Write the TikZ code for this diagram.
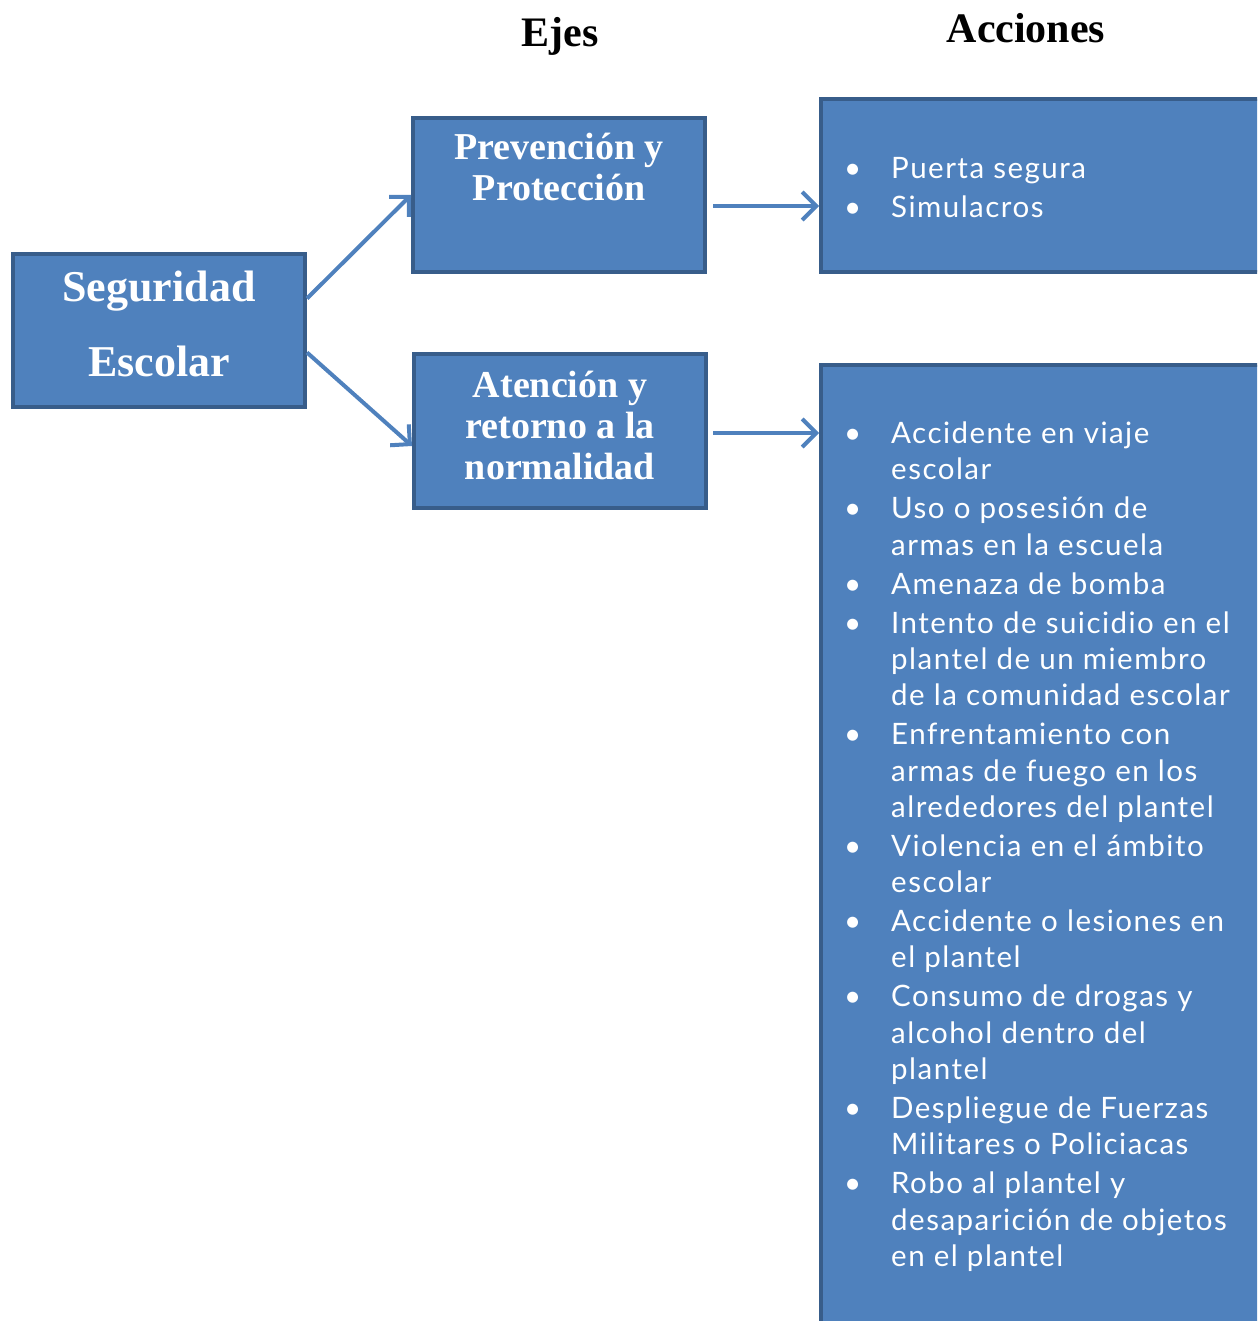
\documentclass[tikz,border=0pt]{standalone}
\usepackage{fontspec}
\setmainfont{Liberation Serif}
\newfontfamily\listafont[LetterSpace=5]{Lato}
\usepackage{enumitem}
\usepackage{tikz}
\usetikzlibrary{arrows.meta, positioning}
\usepackage{xcolor}
\definecolor{azul}{RGB}{79,129,189}
\definecolor{azulborde}{RGB}{56,93,138}

\tikzset{
  caja/.style={draw=azulborde, fill=azul, line width=4pt, anchor=north west, inner sep=0pt},
  textocaja/.style={text=white, align=center, inner sep=0pt, font=\fontsize{38}{41}\selectfont\bfseries},
  titulo/.style={inner sep=0pt, font=\fontsize{42}{44}\selectfont\bfseries},
  flecha/.style={draw=azul, line width=4pt, -{Straight Barb[length=14pt, width=28pt, line width=4pt]}},
  lista/.style={text=white, anchor=north west, inner sep=0pt, text width=420pt, align=left}
}
\newcommand{\listado}[1]{%
  \listafont\fontsize{29.5}{36.3}\selectfont
  \spaceskip=0.31em plus 0.1em minus 0.05em
  \begin{itemize}[label=\textbullet, leftmargin=42pt, labelsep=30pt, itemsep=2.7pt, topsep=0pt, parsep=0pt]
  #1
  \end{itemize}}

\begin{document}
\begin{tikzpicture}[x=1pt, y=-1pt]
  \useasboundingbox (0,0) rectangle (1257,1321);
  \clip (0,0) rectangle (1257,1321);

  % titulos
  \node[titulo] (ejes) at (560,36) {Ejes};
  \node[titulo] (acciones) at (1026,28) {Acciones};

  % cajas
  \node[caja, minimum width=292pt, minimum height=153pt] (seg) at (11,252) {};
  \node[caja, minimum width=292pt, minimum height=154pt] (prev) at (411,116) {};
  \node[caja, minimum width=292pt, minimum height=154pt] (aten) at (412,352) {};
  \node[caja, minimum width=460pt, minimum height=173pt] (accA) at (819,97) {};
  \node[caja, minimum width=460pt, minimum height=1000pt] (accB) at (819,363) {};

  \node[textocaja, font=\fontsize{44}{75}\selectfont\bfseries] (segT) at ([yshift=7pt]seg.center) {Seguridad\\Escolar};
  \node[textocaja, below=17pt of prev.north] (prevT) {Prevención y\\Protección};
  \node[textocaja, below=19pt of aten.north] (atenT) {Atención y\\retorno a la\\normalidad};

  % listas
  \node[lista] (listaA) at (849,142) {\listado{
    \item Puerta segura
    \item Simulacros}};
  \node[lista] (listaB) at (849,407) {\listado{
    \item Accidente en viaje\\escolar
    \item Uso o posesión de\\armas en la escuela
    \item Amenaza de bomba
    \item Intento de suicidio en el\\plantel de un miembro\\de la comunidad escolar
    \item Enfrentamiento con\\armas de fuego en los\\alrededores del plantel
    \item Violencia en el ámbito\\escolar
    \item Accidente o lesiones en\\el plantel
    \item Consumo de drogas y\\alcohol dentro del\\plantel
    \item Despliegue de Fuerzas\\Militares o Policiacas
    \item Robo al plantel y\\desaparición de objetos\\en el plantel}};

  % flechas
  \coordinate (pa) at ([xshift=6pt, yshift=-11pt]prev.east);
  \coordinate (pb) at ([xshift=5pt, yshift=-2pt]aten.east);
  \draw[flecha] ([yshift=32pt]seg.east) -- (prev.west);
  \draw[flecha] ([yshift=-22pt]seg.east) -- ([yshift=-15pt]aten.west);
  \draw[flecha] (pa) -- (pa -| accA.west);
  \draw[flecha] (pb) -- (pb -| accB.west);
\end{tikzpicture}
\end{document}
